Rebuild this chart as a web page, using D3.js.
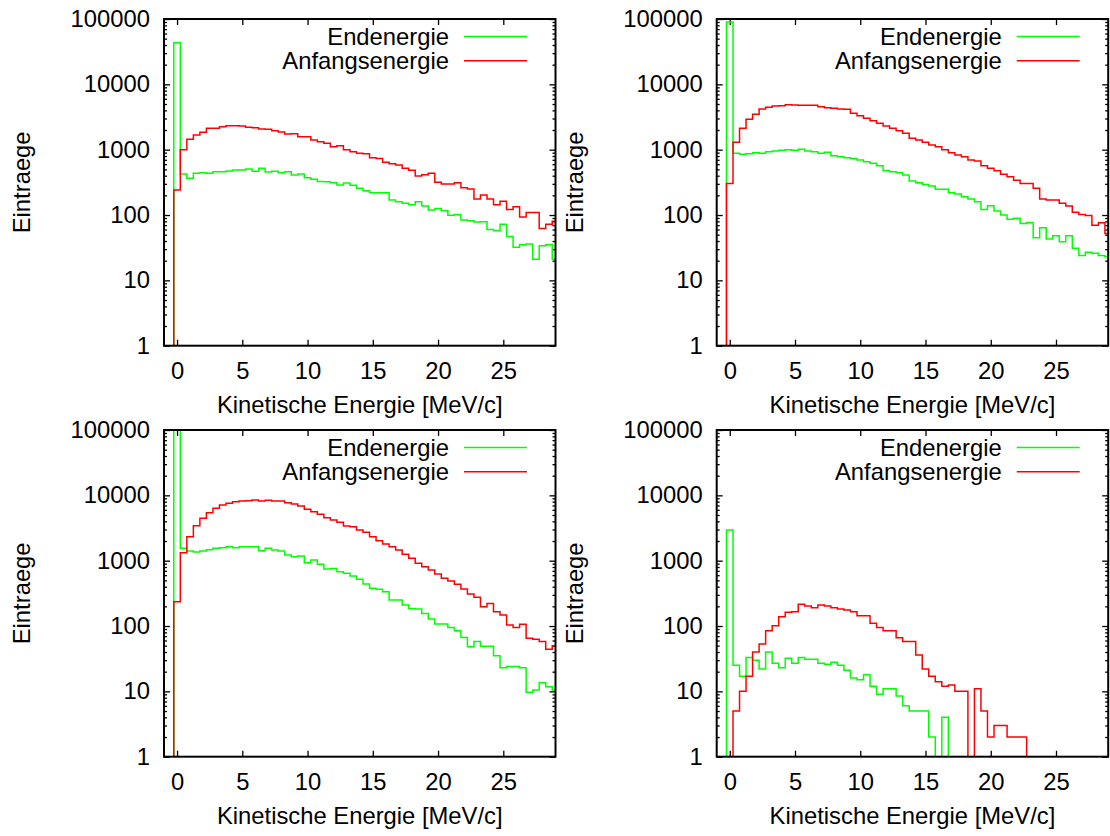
<!DOCTYPE html>
<html>
<head>
<meta charset="utf-8">
<script src="https://cdn.jsdelivr.net/npm/d3@7"></script>
<style>
  html, body { margin: 0; padding: 0; background: #fff; }
  svg { display: block; }
  text { font-family: "Liberation Sans", Arial, Helvetica, sans-serif; fill: #000; }
</style>
</head>
<body>
<svg id="chart" width="1110" height="836"></svg>
<script>
// ---------------- DATA ----------------
// histogram bins: width 0.5 MeV, first bin centred at 0 (edges -0.25 .. 0.25)
const binStart = -0.25;
const binWidth = 0.5;

const xTicks = [0, 5, 10, 15, 20, 25];
const yTicks = [1, 10, 100, 1000, 10000, 100000];
const xLabel = "Kinetische Energie [MeV/c]";
const yLabel = "Eintraege";
const seriesNames = ["Endenergie", "Anfangsenergie"];
const seriesColors = ["#00ff00", "#ff0000"];

// Panel 1 (top left)
const p1Ende = [43400, 424, 364, 434, 444, 434, 460, 460, 471, 489, 489, 506, 466, 518, 455, 466, 444, 460, 409, 424,
  373, 352, 327, 324, 312, 288, 309, 285, 256, 236, 220, 220, 220, 170, 160, 151, 144, 160, 137, 119,
  126, 116, 99, 102, 84, 82, 78, 79, 60, 58, 72, 47, 32, 35, 36, 21, 34, 35, 21];
const p1Anfang = [241, 1000, 1440, 1676, 1843, 2122, 2122, 2249, 2330, 2330, 2300, 2197, 2170, 2071, 2050, 1954, 1862, 1738, 1760, 1582,
  1582, 1406, 1325, 1250, 1112, 1150, 1000, 932, 880, 865, 755, 736, 640, 611, 583, 518, 483, 395, 414, 434,
  316, 298, 298, 312, 262, 250, 176, 202, 176, 144, 162, 122, 134, 93, 109, 109, 62, 72, 80];

// Panel 2 (top right)
const p2Ende = [90000, 879, 849, 865, 900, 879, 932, 954, 976, 1000, 976, 1012, 954, 932, 879, 910, 809, 781, 755, 736,
  695, 655, 618, 569, 477, 460, 444, 409, 331, 312, 294, 278, 247, 247, 220, 210, 191, 176, 160, 122,
  139, 115, 100, 86, 89, 74, 77, 45, 64, 43, 48, 39, 48, 31, 24, 27, 26, 24, 23];
const p2Anfang = [305, 1295, 2120, 2912, 3475, 4190, 4445, 4660, 4720, 4885, 4830, 4780, 4780, 4780, 4550, 4400, 4295, 4190, 4140, 3595,
  3315, 3017, 2780, 2530, 2303, 2120, 1955, 1780, 1490, 1406, 1295, 1178, 1112, 1000, 900, 828, 781, 695, 671, 569,
  518, 477, 419, 386, 340, 305, 305, 256, 176, 170, 170, 151, 137, 110, 102, 98, 70, 76, 52];

// Panel 3 (bottom left)
const p3Ende = [150000, 1545, 1406, 1357, 1406, 1472, 1545, 1582, 1637, 1582, 1637, 1637, 1637, 1422, 1545, 1456, 1406, 1222, 1151, 1175,
  932, 1023, 879, 745, 760, 679, 640, 582, 518, 440, 377, 364, 336, 250, 250, 210, 186, 182, 156, 128,
  107, 107, 95, 85, 67, 48, 58, 49, 49, 35, 23, 24, 24, 23, 9.7, 10.5, 13.6, 11.8, 10.5];
const p3Anfang = [236, 1326, 2330, 3433, 4448, 5430, 6330, 7110, 7550, 8000, 8190, 8290, 8490, 8190, 8390, 8190, 8190, 7730, 7370, 6870,
  6110, 5620, 5120, 4550, 4190, 3860, 3395, 3300, 2945, 2715, 2330, 2023, 1800, 1637, 1456, 1250, 1086, 910, 809, 720,
  625, 537, 489, 434, 368, 309, 275, 198, 222, 166, 147, 104, 95, 106, 65, 63, 58, 44, 50];

// Panel 4 (bottom right) — 0 = empty bin
const p4Ende = [2945, 25, 17, 33, 30, 22, 40, 27, 23, 32, 27, 33, 31, 31, 27, 26, 28, 25, 21, 16,
  15, 18, 12, 9, 11, 11, 8.5, 6, 5, 5, 5, 2, 0, 4, 0, 0, 0, 0, 0, 0,
  0, 0, 0, 0, 0, 0, 0, 0, 0, 0, 0, 0, 0, 0, 0, 0, 0, 0, 0];
const p4Anfang = [0, 5, 10, 17, 40, 53, 85, 101, 139, 162, 166, 215, 202, 191, 210, 202, 191, 182, 176, 166,
  144, 144, 110, 95, 85, 85, 66, 58, 58, 36, 22, 17, 14, 12, 12.5, 10, 10, 0, 11, 5,
  2, 3, 3, 2, 2, 2, 0, 0, 0, 0, 0, 0, 0, 0, 0, 0, 0, 0, 0];

const panels = [
  { left: 164,   top: 19,  series: [p1Ende, p1Anfang] },
  { left: 716.7, top: 19,  series: [p2Ende, p2Anfang] },
  { left: 164,   top: 430, series: [p3Ende, p3Anfang] },
  { left: 716.7, top: 430, series: [p4Ende, p4Anfang] }
];

// ---------------- DRAWING ----------------
const W = 391.5, H = 326.7;
const FS = 23.8;
const svg = d3.select("#chart");

const x = d3.scaleLinear().domain([-1, 29]).range([0, W]);
const y = d3.scaleLog().domain([1, 100000]).range([H, 0]);

const minorTicks = [];
for (let e = 0; e < 5; e++) for (let m = 2; m <= 9; m++) minorTicks.push(m * Math.pow(10, e));

panels.forEach((p, i) => {
  const g = svg.append("g").attr("transform", `translate(${p.left},${p.top})`);

  const clipId = "clip" + i;
  g.append("clipPath").attr("id", clipId)
    .append("rect").attr("x", 0).attr("y", 0).attr("width", W).attr("height", H);

  // axes (inward ticks)
  const styleAxis = sel => {
    sel.select(".domain").remove();
    sel.selectAll("line").attr("stroke", "#000").attr("stroke-width", 1.3);
    sel.selectAll("text").style("font-size", FS + "px").style("font-family", '"Liberation Sans", Arial, sans-serif');
  };

  g.append("g").attr("transform", `translate(0,${H})`)
    .call(d3.axisBottom(x).tickValues(xTicks).tickFormat(d3.format("d"))
      .tickSizeInner(-6).tickSizeOuter(0).tickPadding(16))
    .call(styleAxis);
  g.append("g")
    .call(d3.axisTop(x).tickValues(xTicks).tickFormat("")
      .tickSizeInner(-6).tickSizeOuter(0))
    .call(styleAxis);
  g.append("g")
    .call(d3.axisLeft(y).tickValues(yTicks).tickFormat(d3.format("d"))
      .tickSizeInner(-6).tickSizeOuter(0).tickPadding(14))
    .call(styleAxis);
  g.append("g")
    .call(d3.axisLeft(y).tickValues(minorTicks).tickFormat("")
      .tickSizeInner(-3).tickSizeOuter(0))
    .call(styleAxis);
  g.append("g").attr("transform", `translate(${W},0)`)
    .call(d3.axisRight(y).tickValues(yTicks).tickFormat("")
      .tickSizeInner(-6).tickSizeOuter(0))
    .call(styleAxis);
  g.append("g").attr("transform", `translate(${W},0)`)
    .call(d3.axisRight(y).tickValues(minorTicks).tickFormat("")
      .tickSizeInner(-3).tickSizeOuter(0))
    .call(styleAxis);

  // histogram step lines
  const yv = v => (v > 0 ? y(v) : H + 2);
  p.series.forEach((vals, si) => {
    const pts = [[x(binStart), H + 2]];
    vals.forEach((v, k) => {
      const l = binStart + k * binWidth, r = l + binWidth;
      pts.push([x(l), yv(v)]);
      pts.push([x(r), yv(v)]);
    });
    g.append("path")
      .attr("clip-path", `url(#${clipId})`)
      .attr("d", d3.line()(pts))
      .attr("fill", "none")
      .attr("stroke", seriesColors[si])
      .attr("stroke-width", 1.5)
      .attr("stroke-linejoin", "miter");
  });

  // legend
  seriesNames.forEach((name, si) => {
    const ly = 17.5 + si * 24.3;
    g.append("text")
      .attr("x", W - 106.5).attr("y", ly)
      .attr("dy", "0.35em")
      .attr("text-anchor", "end")
      .style("font-size", FS + "px")
      .text(name);
    g.append("line")
      .attr("x1", W - 91.5).attr("x2", W - 28.5)
      .attr("y1", ly).attr("y2", ly)
      .attr("stroke", seriesColors[si]).attr("stroke-width", 1.5);
  });

  // frame
  g.append("rect").attr("x", 0).attr("y", 0).attr("width", W).attr("height", H)
    .attr("fill", "none").attr("stroke", "#000").attr("stroke-width", 2);

  // axis titles
  g.append("text")
    .attr("x", W / 2).attr("y", H + 59)
    .attr("dy", "0.35em")
    .attr("text-anchor", "middle")
    .style("font-size", FS + "px")
    .text(xLabel);
  g.append("text")
    .attr("transform", `translate(-142,${H / 2}) rotate(-90)`)
    .attr("dy", "0.35em")
    .attr("text-anchor", "middle")
    .style("font-size", FS + "px")
    .text(yLabel);
});
</script>
</body>
</html>
